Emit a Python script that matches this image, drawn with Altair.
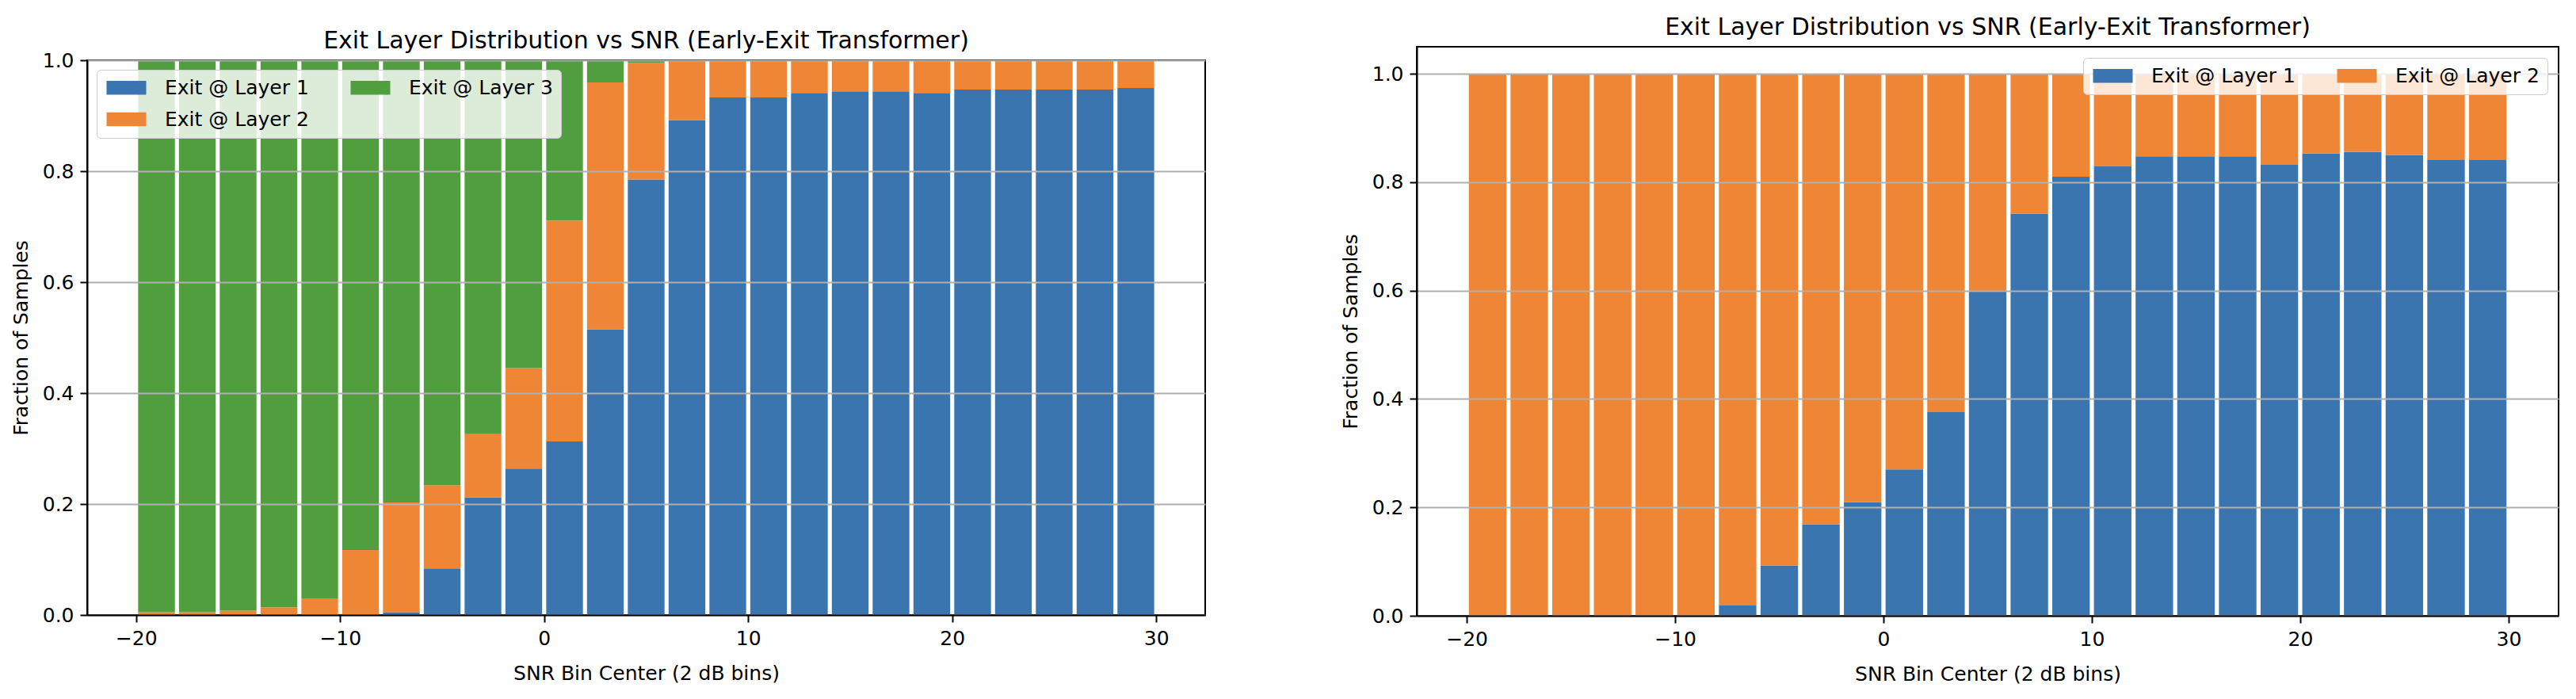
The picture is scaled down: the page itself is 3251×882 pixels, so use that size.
import altair as alt
import pandas as pd

# ---------------- data ----------------
snr_centers = [-19, -17, -15, -13, -11, -9, -7, -5, -3, -1, 1, 3, 5,
               7, 9, 11, 13, 15, 17, 19, 21, 23, 25, 27, 29]

# left panel: three-exit model
left_layer1 = [0.0, 0.0, 0.0, 0.0, 0.0, 0.0, 0.005, 0.084, 0.212, 0.264, 0.313, 0.515, 0.785,
               0.892, 0.933, 0.933, 0.941, 0.944, 0.944, 0.941, 0.947, 0.947, 0.947, 0.947, 0.950]
left_layer2 = [0.005, 0.005, 0.008, 0.014, 0.030, 0.117, 0.198, 0.150, 0.114, 0.181, 0.398, 0.445, 0.210,
               0.108, 0.067, 0.067, 0.059, 0.056, 0.056, 0.059, 0.053, 0.053, 0.053, 0.053, 0.050]
left_layer3 = [0.995, 0.995, 0.992, 0.986, 0.970, 0.883, 0.797, 0.766, 0.674, 0.555, 0.289, 0.040, 0.005,
               0.0, 0.0, 0.0, 0.0, 0.0, 0.0, 0.0, 0.0, 0.0, 0.0, 0.0, 0.0]

# right panel: two-exit model
right_layer1 = [0.0, 0.0, 0.0, 0.0, 0.0, 0.0, 0.019, 0.093, 0.169, 0.210, 0.270, 0.376, 0.598,
                0.742, 0.810, 0.829, 0.848, 0.848, 0.848, 0.832, 0.853, 0.856, 0.850, 0.842, 0.842]
right_layer2 = [1.0, 1.0, 1.0, 1.0, 1.0, 1.0, 0.981, 0.907, 0.831, 0.790, 0.730, 0.624, 0.402,
                0.258, 0.190, 0.171, 0.152, 0.152, 0.152, 0.168, 0.147, 0.144, 0.150, 0.158, 0.158]

layer_names = ["Exit @ Layer 1", "Exit @ Layer 2", "Exit @ Layer 3"]
x_ticks = [-20, -10, 0, 10, 20, 30]
y_ticks = [0.0, 0.2, 0.4, 0.6, 0.8, 1.0]

chart_title = "Exit Layer Distribution vs SNR (Early-Exit Transformer)"
x_title = "SNR Bin Center (2 dB bins)"
y_title = "Fraction of Samples"

# ---------------- style ----------------
FONT = "DejaVu Sans"
BLUE, ORANGE, GREEN = "#3B75AF", "#EF8636", "#519E3E"
BAR_HALF = 0.9
X_DOMAIN = [-22.4, 32.4]
LEGEND_PATH = "M-2.5,-0.875H2.5V0.875H-2.5Z"


def long_table(series):
    rows = []
    for i, c in enumerate(snr_centers):
        base = 0.0
        for name, vals in series:
            v = vals[i]
            rows.append({"snr": c, "layer": name, "y0": base, "y1": base + v})
            base += v
    return pd.DataFrame(rows)


def panel(df, domain, rng, w, h, ydom, legend_orient, legend_offset, title_offset):
    legend = alt.Legend(
        title=None, orient=legend_orient, offset=legend_offset, columns=2,
        columnPadding=50, rowPadding=14, symbolType=LEGEND_PATH, symbolSize=400,
        symbolOffset=15, labelOffset=36, symbolStrokeWidth=0, symbolOpacity=1,
        labelFont=FONT, labelFontSize=25, labelLimit=600, labelColor="black",
        fillColor="rgba(255,255,255,0.8)", strokeColor="#cccccc", cornerRadius=5,
        padding=10, zindex=2,
    )
    return alt.Chart(df).transform_calculate(
        lo=f"datum.snr - {BAR_HALF}", hi=f"datum.snr + {BAR_HALF}"
    ).mark_rect().encode(
        x=alt.X("lo:Q", scale=alt.Scale(domain=X_DOMAIN, nice=False, zero=False),
                axis=alt.Axis(values=x_ticks, title=x_title, grid=False, format="d",
                              labelFlush=False, titlePadding=19, zindex=1)),
        x2="hi:Q",
        y=alt.Y("y0:Q", scale=alt.Scale(domain=ydom, nice=False, zero=True),
                axis=alt.Axis(values=y_ticks, format=".1f", title=y_title, grid=True,
                              gridColor="#b0b0b0", gridWidth=2, titlePadding=14, zindex=1)),
        y2="y1:Q",
        color=alt.Color("layer:N", scale=alt.Scale(domain=domain, range=rng), legend=legend),
    ).properties(
        width=w, height=h,
        title=alt.Title(chart_title, fontSize=30, font=FONT, fontWeight="normal", color="black",
                        anchor="middle", frame="group", offset=title_offset,
                        baseline="alphabetic"),
    )


def spacer(h):
    return alt.Chart(pd.DataFrame({"k": [0]})).mark_rule(color="white", strokeWidth=1).encode(
        x=alt.value(0), x2=alt.value(1), y=alt.value(0)
    ).properties(width=1, height=h, view=alt.ViewBackground(strokeWidth=0, strokeOpacity=0))


left_df = long_table([(layer_names[0], left_layer1), (layer_names[1], left_layer2),
                      (layer_names[2], left_layer3)])
right_df = long_table([(layer_names[0], right_layer1), (layer_names[1], right_layer2)])

left = panel(left_df, layer_names, [BLUE, ORANGE, GREEN],
             1411, 700, [0, 1.0], "top-left", 12, -27)
right = panel(right_df, layer_names[:2], [BLUE, ORANGE],
              1441, 718, [0, 1.05], "top-right", 14, -15)


def column(top_gap, unit):
    return alt.vconcat(spacer(top_gap), unit, spacing=0).resolve_scale(
        x="independent", y="independent", color="independent"
    ).resolve_legend(color="independent")


chart = alt.hconcat(column(22, left), column(5, right), spacing=169).resolve_scale(
    color="independent", x="independent", y="independent"
).resolve_legend(color="independent").properties(
    padding={"left": 5, "top": 5, "right": 5, "bottom": 5},
    background="white",
).configure(font=FONT).configure_axis(
    labelFont=FONT, titleFont=FONT, labelFontSize=25, titleFontSize=25,
    titleFontWeight="normal", labelColor="black", titleColor="black",
    domainColor="black", domainWidth=2, tickColor="black", tickWidth=2,
    tickSize=9, labelPadding=8,
).configure_view(stroke="black", strokeWidth=2)

chart.save("out.html", embed_options={"renderer": "svg", "actions": False})
